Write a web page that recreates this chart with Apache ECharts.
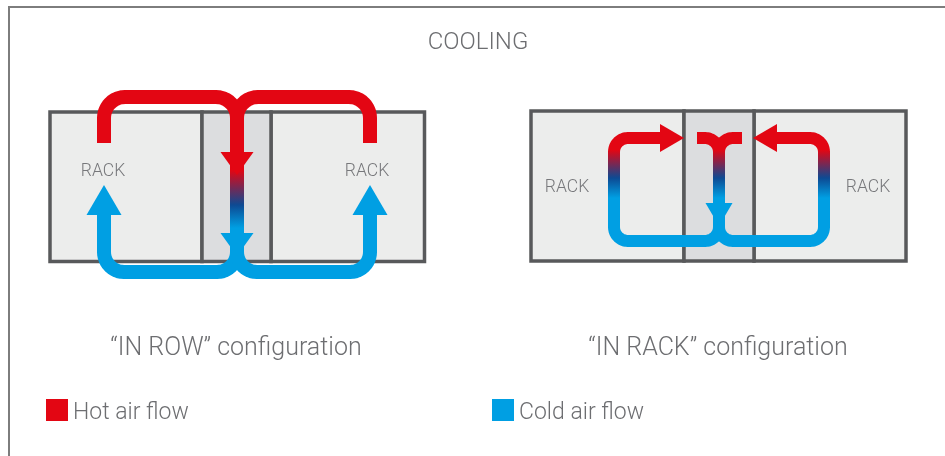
<!DOCTYPE html>
<html lang="en">
<head>
<meta charset="UTF-8">
<title>Cooling</title>
<script src="https://cdn.jsdelivr.net/npm/echarts@6/dist/echarts.min.js"></script>
<style>
  body { margin: 0; background: #fff; }
  #chart { width: 945px; height: 456px; }
</style>
</head>
<body>
<div id="chart"></div>
<script>
// diagram coordinates: x to the right, y downwards (same scale as the page)
const sideRacks = [[50, 112, 202, 261.5], [271, 112, 424.5, 261.5], [531, 111, 684, 261], [754, 111, 906, 261]];
const aisles = [[202, 112, 271, 261.5], [684, 111, 754, 261]];
const rackLabels = [[103, 172], [367, 172], [567, 188], [868, 188]];

// "IN ROW": hot air goes up and over into the middle unit, cold air comes back underneath
const inRowHot = [
  [[104, 143], [104, 97], [237, 97], [237, 236]],
  [[370, 143], [370, 97], [237, 97], [237, 236]]
];
const inRowCold = [
  [[237, 236], [237, 272], [104, 272], [104, 212]],
  [[237, 236], [237, 272], [370, 272], [370, 212]]
];
// "IN RACK": loops inside the racks
const inRackFlow = [
  [[697, 138], [719, 138], [719, 224]],
  [[742, 138], [719, 138], [719, 224]],
  [[719, 215], [719, 241], [614, 241], [614, 138], [660, 138]],
  [[719, 215], [719, 241], [824, 241], [824, 138], [777, 138]]
];
// arrow heads: [baseX, baseY, tipX, tipY, halfWidth]
const hotArrows = [[237, 152, 237, 175, 16.5], [660, 138, 684, 138, 14], [777, 138, 753, 138, 14]];
const coldArrows = [[237, 233, 237, 256, 16.5], [104, 215, 104, 185, 17.5], [370, 215, 370, 185, 17.5], [719, 203, 719, 226, 13.5]];
// where the air turns from hot to cold (red, dark blue, cyan)
const inRowFade = [170, 205, 228];
const inRackFade = [150, 178, 198];

const RED = '#e30613', NAVY = '#0d4a93', CYAN = '#009fe3';
const FONT = 'Roboto';
const TEXT = '#6d6e71';

function roundCorners(pts, r) {
  const out = [pts[0]];
  const last = pts.length - 1;
  for (let i = 1; i < last; i++) {
    const p = pts[i - 1], c = pts[i], n = pts[i + 1];
    const d1 = Math.hypot(c[0] - p[0], c[1] - p[1]);
    const d2 = Math.hypot(n[0] - c[0], n[1] - c[1]);
    const rr = Math.min(r, i - 1 === 0 ? d1 : d1 / 2, i + 1 === last ? d2 : d2 / 2);
    const u1 = [(c[0] - p[0]) / d1, (c[1] - p[1]) / d1];
    const u2 = [(n[0] - c[0]) / d2, (n[1] - c[1]) / d2];
    const a = [c[0] - u1[0] * rr, c[1] - u1[1] * rr];
    const b = [c[0] + u2[0] * rr, c[1] + u2[1] * rr];
    const k = 0.5523 * rr;
    const c1 = [a[0] + u1[0] * k, a[1] + u1[1] * k];
    const c2 = [b[0] - u2[0] * k, b[1] - u2[1] * k];
    for (let s = 0; s <= 12; s++) {
      const t = s / 12, m = 1 - t;
      out.push([
        m * m * m * a[0] + 3 * m * m * t * c1[0] + 3 * m * t * t * c2[0] + t * t * t * b[0],
        m * m * m * a[1] + 3 * m * m * t * c1[1] + 3 * m * t * t * c2[1] + t * t * t * b[1]
      ]);
    }
  }
  out.push(pts[last]);
  return out;
}

function fade(api, f) {
  const y0 = api.coord([0, f[0]])[1], y2 = api.coord([0, f[2]])[1];
  const mid = (f[1] - f[0]) / (f[2] - f[0]);
  return new echarts.graphic.LinearGradient(0, y0, 0, y2, [
    { offset: 0, color: RED }, { offset: mid, color: NAVY }, { offset: 1, color: CYAN }
  ], true);
}

function tubeSeries(name, paths, width, radius, strokeFn) {
  return {
    type: 'custom', name: name, silent: true, clip: false,
    itemStyle: { color: name === 'Cold air flow' ? CYAN : RED },
    data: paths.map((_, i) => [i]),
    renderItem: (params, api) => ({
      type: 'polyline',
      shape: { points: roundCorners(paths[params.dataIndex].map(p => api.coord(p)), radius) },
      style: { fill: 'none', stroke: strokeFn(api), lineWidth: width, lineCap: 'butt', lineJoin: 'round' }
    })
  };
}

function arrowSeries(arrows, color) {
  return {
    type: 'custom', silent: true, clip: false,
    data: arrows,
    renderItem: (params, api) => {
      const base = api.coord([api.value(0), api.value(1)]);
      const tip = api.coord([api.value(2), api.value(3)]);
      const h = api.value(4);
      const len = Math.hypot(tip[0] - base[0], tip[1] - base[1]);
      const nx = -(tip[1] - base[1]) / len, ny = (tip[0] - base[0]) / len;
      return {
        type: 'polygon',
        shape: { points: [[base[0] + nx * h, base[1] + ny * h], tip, [base[0] - nx * h, base[1] - ny * h]] },
        style: { fill: color, stroke: 'none' }
      };
    }
  };
}

function boxSeries(boxes, fill) {
  return {
    type: 'custom', silent: true, clip: false,
    data: boxes,
    renderItem: (params, api) => {
      const a = api.coord([api.value(0), api.value(1)]);
      const b = api.coord([api.value(2), api.value(3)]);
      return {
        type: 'rect',
        shape: { x: a[0], y: a[1], width: b[0] - a[0], height: b[1] - a[1] },
        style: { fill: fill, stroke: '#58595b', lineWidth: 3.5 }
      };
    }
  };
}

const chart = echarts.init(document.getElementById('chart'));

const legendBase = {
  top: 399, padding: 0, icon: 'rect', itemWidth: 22, itemHeight: 22, selectedMode: false,
  formatter: '{t|{name}}',
  textStyle: {
    rich: { t: { fontFamily: FONT, fontWeight: 300, fontSize: 23, color: TEXT, padding: [6, 0, 0, 0] } }
  }
};

chart.setOption({
  animation: false,
  grid: { left: 0, right: 0, top: 0, bottom: 0 },
  xAxis: { type: 'value', min: 0, max: 945, show: false },
  yAxis: { type: 'value', min: 0, max: 456, inverse: true, show: false },
  legend: [
    Object.assign({ left: 46, data: [{ name: 'Hot air flow', itemStyle: { color: RED } }] }, legendBase),
    Object.assign({ left: 492, data: [{ name: 'Cold air flow', itemStyle: { color: CYAN } }] }, legendBase)
  ],
  graphic: [
    { type: 'rect', z: -10, shape: { x: 9, y: 7, width: 1000, height: 500 }, style: { fill: 'none', stroke: '#7d7d7d', lineWidth: 2 } },
    { type: 'text', x: 478, y: 43, style: { text: 'COOLING', align: 'center', verticalAlign: 'middle', fontFamily: FONT, fontWeight: 300, fontSize: 24, fill: TEXT } },
    { type: 'text', x: 236, y: 349, style: { text: '\u201cIN ROW\u201d configuration', align: 'center', verticalAlign: 'middle', fontFamily: FONT, fontWeight: 300, fontSize: 25, fill: TEXT } },
    { type: 'text', x: 718, y: 349, style: { text: '\u201cIN RACK\u201d configuration', align: 'center', verticalAlign: 'middle', fontFamily: FONT, fontWeight: 300, fontSize: 25, fill: TEXT } }
  ],
  series: [
    boxSeries(sideRacks, '#ecedec'),
    boxSeries(aisles, '#dcdddf'),
    {
      type: 'custom', silent: true, clip: false,
      data: rackLabels,
      renderItem: (params, api) => {
        const p = api.coord([api.value(0), api.value(1)]);
        return {
          type: 'text', x: p[0], y: p[1],
          style: { text: 'RACK', align: 'center', verticalAlign: 'middle', fontFamily: FONT, fontWeight: 300, fontSize: 17.5, fill: '#77787b' }
        };
      }
    },
    tubeSeries('Hot air flow', inRowHot, 14, 21, api => fade(api, inRowFade)),
    tubeSeries('Cold air flow', inRowCold, 14, 20, () => CYAN),
    tubeSeries('in rack', inRackFlow, 12, 14, api => fade(api, inRackFade)),
    arrowSeries(hotArrows, RED),
    arrowSeries(coldArrows, CYAN)
  ]
});
</script>
</body>
</html>
